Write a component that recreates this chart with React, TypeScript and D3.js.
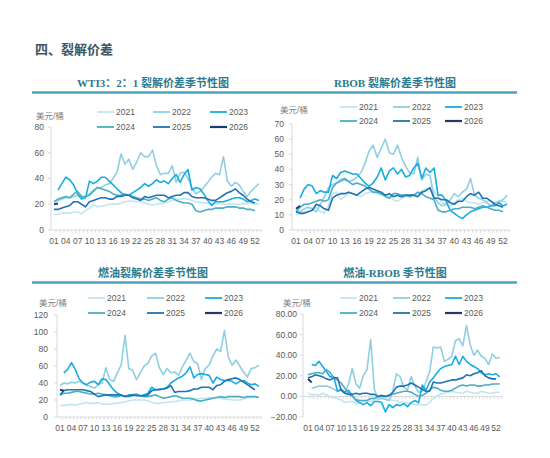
import * as d3 from "d3";

// 年份与配色
const years = ["2021", "2022", "2023", "2024", "2025", "2026"];
const colors = ["#c2e5f0", "#8fcfe2", "#16ade2", "#4aaec6", "#1f73b3", "#1b3c6b"];
const weekTicks = d3.range(1, 53, 3); // 01 04 ... 52

type V = number | null;

// WTI 3:2:1 裂解价差
const wti2021: V[] = [12, 12, 13, 13.5, 13, 14, 14, 12.5, 15, 17, 20, 18, 18.5, 19, 20, 20.5, 20, 21, 22, 22.5, 22.5, 22, 22, 21, 20, 19.5, 20, 20.5, 21, 22, 23, 24, 24, 24.5, 24, 23, 22, 21.5, 21, 21, 20.5, 20.5, 20.5, 20, 20, 20.5, 20, 20, 20.5, 20.5, 21, 20.5, 20];
const wti2022: V[] = [22, 23, 24, 25, 25, 26, 27, 25, 26, 28, 31, 33, 33, 35, 36, 40, 45, 59, 51, 55, 47, 53, 60, 57, 57, 62, 50, 43, 44, 44, 50, 37, 44, 45, 40, 33, 28, 30, 33, 37, 41, 44, 43, 57, 38, 34, 37, 35, 30, 26, 30, 33, 36];
const wti2023: V[] = [null, 31, 36, 41, 39, 35, 28, 24, 25, 38, 36, 38, 41, 41, 38, 35, 32, 29, 27, 27, 29, 31, 33, 36, 34, 36, 39, 37, 38, 36, 40, 43, 37, 43, 47, 31, 33, 32, 28, 23, 19, 22, 22, 22, 23, 24, 25, 25, 24, 22, 23, 24, 23];
const wti2024: V[] = [22, 24, 25, 26, 25, 28, 30, 26, 26, 27, 30, 33, 32, 31, 30, 28, 27, 27, 28, 27, 26, 25, 24, 24, 23, 24, 25, 23, 22, 24, 25, 23, 22, 21, 21, 20, 15, 14, 15, 16, 16, 17, 17, 17, 18, 18, 18, 17, 17, 16, 16, 15];
const wti2025: V[] = [16, 16, 17, 18, 19, 22, 22, 20, 18, 22, 23, 24, 25, 25, 24, 24, 26, 26, 27, 27, 25, 24, 23, 26, 25, 26, 27, 27, 27, 25, 26, 27, 27, 29, 29, 26, 25, 25, 25, 24, 23, 23, 25, 27, 29, 30, 32, 29, 27, 24, 22, 21];
const wti2026: V[] = [20, 20.5];

// RBOB 裂解价差
const rbob2021: V[] = [10, 11, 12, 12, 13, 15, 12, 11, 16, 24, 25, 20, 22, 25, 24, 23, 22, 24, 25, 25, 24, 23, 23, 22, 20, 19, 21, 22, 23, 23, 24, 26, 27, 27, 26, 22, 18, 17, 16, 18, 20, 21, 19, 18, 18, 17, 18, 19, 19, 18, 19, 19, 18];
const rbob2022: V[] = [13, 12, 14, 15, 14, 12, 17, 22, 28, 30, 31, 32, 33, 32, 33, 35, 38, 44, 52, 56, 48, 54, 60, 51, 50, 56, 48, 42, 38, 37, 48, 33, 37, 36, 22, 18, 16, 17, 20, 24, 22, 25, 27, 34, 23, 21, 20, 18, 16, 18, 19, 20, 23];
const rbob2023: V[] = [null, 21, 27, 30, 29, 24, 26, 25, 25, 36, 34, 38, 39, 38, 37, 37, 34, 31, 29, 31, 35, 41, 33, 39, 41, 37, 40, 35, 36, 41, 44, 34, 41, 38, 41, 23, 23, 19, 13, 11, 9, 7.5, 10, 12, 13, 14, 15, 15, 16, 16, 18, 16, 17];
const rbob2024: V[] = [12, 15, 17, 17, 18, 19, 20, 19, 20, 28, 31, 33, 34, 32, 30, 31, 30, 29, 27, 25, 25, 24, 22, 21, 24, 24, 23, 23, 22, 23, 25, 24, 22, 21, 20, 13, 12, 12, 13, 14, 14, 15, 15, 15, 14, 15, 16, 15, 14, 13, 13, 12];
const rbob2025: V[] = [12, 11, 11, 12, 13, 17, 16, 14, 13, 21, 23, 24, 24, 25, 24, 23, 25, 27, 28, 27, 26, 25, 23, 24, 22, 23, 22, 23, 23, 23, 22, 25, 26, 28, 21, 21, 20, 20, 18, 17, 19, 19, 22, 24, 23, 25, 21, 21, 19, 17, 16, 15];
const rbob2026: V[] = [14, 16];

// 燃油裂解价差
const fo2021: V[] = [13, 14, 14, 15, 14, 15, 16, 17, 16, 16, 17, 15, 15, 15, 16, 16, 17, 18, 19, 20, 20, 20, 20, 19, 17, 16, 16, 17, 17, 18, 18, 19, 20, 20, 20, 21, 21, 22, 22, 23, 23, 23, 22, 21, 21, 20, 20, 20, 21, 22, 23, 24, 23];
const fo2022: V[] = [37, 40, 39, 41, 40, 42, 40, 37, 36, 34, 38, 40, 58, 44, 42, 52, 61, 96, 57, 55, 44, 52, 60, 63, 72, 75, 58, 50, 57, 52, 53, 49, 59, 67, 75, 65, 63, 44, 57, 61, 72, 80, 77, 102, 71, 61, 67, 60, 53, 47, 57, 58, 61];
const fo2023: V[] = [null, 52, 56, 64, 56, 45, 40, 38, 41, 42, 38, 45, 44, 38, 32, 28, 26, 24, 26, 26, 27, 25, 26, 28, 35, 32, 33, 33, 35, 40, 43, 46, 48, 52, 59, 46, 50, 51, 50, 49, 40, 47, 44, 43, 43, 42, 39, 42, 43, 40, 38, 39, 36];
const fo2024: V[] = [26, 28, 28, 29, 30, 30, 29, 28, 27, 27, 28, 27, 26, 25, 24, 24, 25, 25, 24, 25, 26, 25, 24, 24, 25, 26, 24, 22, 23, 24, 25, 24, 22, 22, 22, 21, 19, 19, 20, 21, 22, 23, 24, 23, 24, 24, 24, 24, 23, 24, 24, 24, 23];
const fo2025: V[] = [26, 31, 32, 32, 32, 32, 32, 31, 30, 27, 24, 25, 26, 26, 26, 26, 26, 24, 25, 26, 25, 25, 25, 26, 31, 32, 32, 33, 34, 37, 29, 30, 30, 30, 31, 33, 33, 35, 35, 35, 32, 37, 38, 42, 44, 45, 46, 44, 41, 38, 35, 32];
const fo2026: V[] = [32, 31];

// 燃油-RBOB
const fr2021: V[] = [3, 1.5, 2, 1, 3, 1.5, 0, -1, -2, -3.5, -6, -5, -5, -7, -6, -5, -4.5, -5, -3, -3, -2, -2, -3, -4, -4, -5.5, -6, -6.5, -7, -8, -8, -8, -8.5, -6, -2, 1, 2, 3, 4, 5, 4, 3.5, 3, 5, 4, 3, 3, 5, 4, 3, 3, 4, 4];
const fr2022: V[] = [null, 8, 9, 10, 10, 10, 9, 7, 5, 6, 3, 12, 27, 12, 8, 20, 26, 55, 7, -2, -2, -3, -4, 5, 22, 19, 9, 6, 19, 10, 4, 5, 14, 24, 48, 47, 48, 34, 36, 39, 54, 56, 49, 69, 50, 40, 45, 39, 37, 31, 41, 37, 38];
const fr2023: V[] = [null, 31, 30, 34, 29, 24, 19, 19, 5, 7, 4, 6, 1, -4, -6, -8, -6, -9, -5, -5, -6, -15, -8, -11, -8, -9, -7, -10, -6, -4, -6, 11, 6, 14, 18, 23, 27, 29, 30, 31, 39, 31, 39, 34, 31, 29, 27, 23, 21, 22, 21, 22, 19];
const fr2024: V[] = [21, 22, 23, 23, 22, 26, 23, 18, 16, 13, 8, 3, 0, -3, -4, -4, -4, -2, -2, 0, 0, 0, 1, 2, 3, 4, 5, 5, 4, 2, 0, 1, 3, 6, 9, 8, 6, 5, 5, 6, 8, 10, 11, 10, 11, 11, 10, 10, 11, 11, 12, 12, 12];
const fr2025: V[] = [18, 19, 21, 20, 19, 17, 16, 18, 18, 6, 3, 2, 2, 3, 2, 3, 3, 2, 2, 0, 1, 0, 1, 4, 9, 10, 10, 11, 13, 11, 9, 7, 5, 5, 14, 13, 13, 14, 15, 16, 16, 17, 18, 21, 20, 22, 23, 25, 20, 18, 17, 17];
const fr2026: V[] = [17, 13.5];

const sans = "'Liberation Sans', Arial, 'Noto Sans CJK SC', sans-serif";
const titleFont = "'Liberation Serif', 'Noto Sans CJK SC', serif";
const axisColor = "#d9d9d9";
const textColor = "#595959";

type Layout = {
  titleX: number;
  titleY: number;
  legendY: [number, number];
  legendX: [number, number, number];
  unitX: number;
  unitY: number;
  axisX: number;
  x1: number;
  x52: number;
  top: number;
  bottom: number;
  labelRight: number;
  xLabelY: number;
};

function Panel({
  title,
  series,
  domain,
  step,
  fmt,
  lay,
}: {
  title: string;
  series: V[][];
  domain: [number, number];
  step: number;
  fmt: (v: number) => string;
  lay: Layout;
}) {
  const x = d3.scaleLinear().domain([1, 52]).range([lay.x1, lay.x52]);
  const y = d3.scaleLinear().domain(domain).range([lay.bottom, lay.top]);
  const yTicks = d3.range(domain[0], domain[1] + step / 2, step);
  const line = d3
    .line<V>()
    .defined((d) => d != null)
    .x((_, i) => x(i + 1))
    .y((d) => y(d as number));
  const zeroY = y(Math.max(0, domain[0]));
  const lastWeek = 53;

  return (
    <g>
      <text
        x={lay.titleX}
        y={lay.titleY}
        textAnchor="middle"
        fontFamily={titleFont}
        fontWeight="bold"
        fontSize={11}
        fill="#2b7a8e"
      >
        {title}
      </text>

      {/* legend */}
      {years.map((yr, i) => {
        const lx = lay.legendX[i % 3];
        const ly = lay.legendY[Math.floor(i / 3)];
        return (
          <g key={yr}>
            <line x1={lx} x2={lx + 17} y1={ly} y2={ly} stroke={colors[i]} strokeWidth={i === 5 ? 2.2 : 1.8} />
            <text x={lx + 19} y={ly} dy="0.35em" fontFamily={sans} fontSize={8.5} fill={textColor}>
              {yr}
            </text>
          </g>
        );
      })}

      <text x={lay.unitX} y={lay.unitY} fontFamily={sans} fontSize={8.5} fill="#7f7f7f">
        美元/桶
      </text>

      {/* axes */}
      <line x1={lay.axisX} x2={lay.axisX} y1={lay.top} y2={lay.bottom} stroke={axisColor} />
      {yTicks.map((t) => (
        <g key={t}>
          <line x1={lay.axisX - 3} x2={lay.axisX} y1={y(t)} y2={y(t)} stroke={axisColor} />
          <text
            x={lay.labelRight}
            y={y(t)}
            dy="0.35em"
            textAnchor="end"
            fontFamily={sans}
            fontSize={8.5}
            fill={textColor}
          >
            {fmt(t)}
          </text>
        </g>
      ))}
      <line x1={lay.axisX} x2={x(lastWeek) + 3} y1={zeroY} y2={zeroY} stroke={axisColor} />
      {d3.range(1, lastWeek + 1).map((w) => (
        <line key={w} x1={x(w) + 2} x2={x(w) + 2} y1={zeroY} y2={zeroY + 2.5} stroke={axisColor} />
      ))}
      {weekTicks.map((w) => (
        <text
          key={w}
          x={x(w)}
          y={lay.xLabelY}
          dy="0.35em"
          textAnchor="middle"
          fontFamily={sans}
          fontSize={8.5}
          fill={textColor}
        >
          {d3.format("02d")(w)}
        </text>
      ))}

      {/* lines */}
      {series.map((s, i) => (
        <path
          key={years[i]}
          d={line(s) ?? ""}
          fill="none"
          stroke={colors[i]}
          strokeWidth={i === 5 ? 2 : 1.6}
          strokeLinejoin="round"
        />
      ))}
    </g>
  );
}

const intFmt = (v: number) => String(v);
const decFmt = (v: number) => d3.format(".2f")(v);

export default function App() {
  return (
    <svg
      width={550}
      height={458}
      viewBox="0 0 550 458"
      style={{ position: "absolute", left: 0, top: 0, background: "#fff" }}
    >
      <rect width={550} height={458} fill="#fff" />
      <text x={35} y={54} fontFamily="'Noto Sans CJK SC', sans-serif" fontWeight="bold" fontSize={13} fill="#3b5561">
        四、裂解价差
      </text>
      <line x1={32} x2={517} y1={92.5} y2={92.5} stroke="#4ba4bf" strokeWidth={2.5} />
      <line x1={32} x2={517} y1={282.5} y2={282.5} stroke="#4ba4bf" strokeWidth={2.5} />

      <Panel
        title="WTI3：2：1 裂解价差季节性图"
        series={[wti2021, wti2022, wti2023, wti2024, wti2025, wti2026]}
        domain={[0, 80]}
        step={20}
        fmt={intFmt}
        lay={{
          titleX: 153, titleY: 87, legendY: [112, 127], legendX: [97, 153, 210],
          unitX: 36, unitY: 119, axisX: 51, x1: 54, x52: 255, top: 127, bottom: 230,
          labelRight: 44, xLabelY: 241,
        }}
      />
      <Panel
        title="RBOB 裂解价差季节性图"
        series={[rbob2021, rbob2022, rbob2023, rbob2024, rbob2025, rbob2026]}
        domain={[0, 70]}
        step={10}
        fmt={intFmt}
        lay={{
          titleX: 395, titleY: 87, legendY: [107, 121], legendX: [340, 393, 445],
          unitX: 280, unitY: 113, axisX: 292, x1: 296, x52: 503, top: 124, bottom: 230,
          labelRight: 284, xLabelY: 241,
        }}
      />
      <Panel
        title="燃油裂解价差季节性图"
        series={[fo2021, fo2022, fo2023, fo2024, fo2025, fo2026]}
        domain={[0, 120]}
        step={20}
        fmt={intFmt}
        lay={{
          titleX: 153, titleY: 277, legendY: [298, 313], legendX: [88, 147, 205],
          unitX: 39, unitY: 306, axisX: 57, x1: 60, x52: 255, top: 315, bottom: 417,
          labelRight: 48, xLabelY: 428,
        }}
      />
      <Panel
        title="燃油-RBOB 季节性图"
        series={[fr2021, fr2022, fr2023, fr2024, fr2025, fr2026]}
        domain={[-20, 80]}
        step={20}
        fmt={decFmt}
        lay={{
          titleX: 395, titleY: 277, legendY: [298, 313], legendX: [340, 393, 445],
          unitX: 283, unitY: 306, axisX: 303, x1: 308, x52: 496, top: 314, bottom: 417,
          labelRight: 297, xLabelY: 428,
        }}
      />
    </svg>
  );
}
